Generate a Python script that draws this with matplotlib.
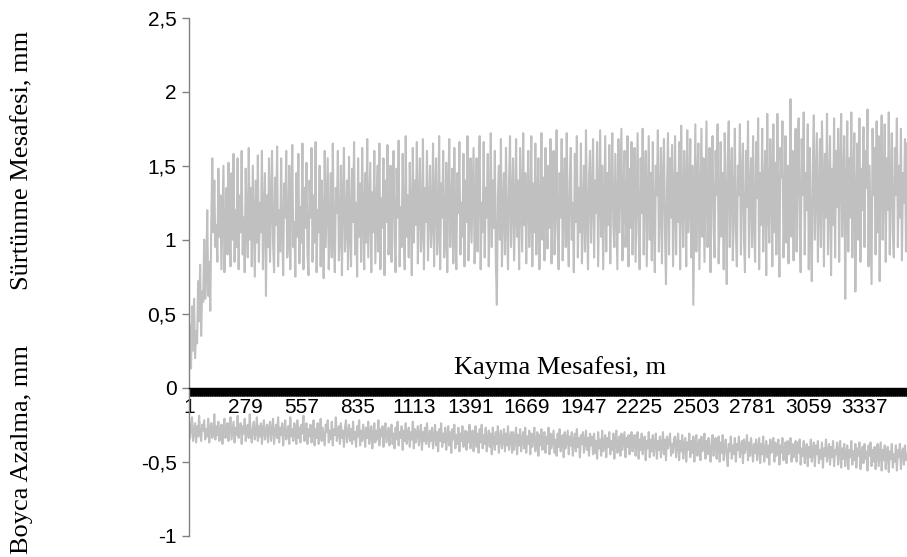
import numpy as np
import matplotlib
matplotlib.use("Agg")
import matplotlib.pyplot as plt

# ---------------- data ----------------
cat_step = 5           # one value shown every 5 categories
n_categories = 3546    # categories visible on the x axis

friction_mm = [
    0.15, 0.42, 0.13, 0.55, 0.25, 0.60, 0.20, 0.38, 0.30, 0.72, 0.45, 0.83, 0.35, 0.65, 0.58, 1.00, 0.60, 0.75, 1.20, 0.62,
    0.85, 0.52, 1.10, 1.55, 1.05, 1.40, 0.95, 1.10, 0.85, 1.48, 1.02, 1.30, 0.80, 1.15, 1.50, 0.78, 1.05, 1.35, 0.90, 1.52,
    1.10, 0.82, 1.45, 1.00, 1.58, 0.85, 1.20, 0.95, 1.55, 0.80, 1.30, 1.05, 1.60, 0.90, 1.15, 0.78, 1.48, 1.10, 0.88, 1.62,
    1.00, 1.35, 0.82, 1.50, 1.12, 0.75, 1.40, 0.98, 1.57, 0.85, 1.25, 1.05, 1.60, 0.80, 1.18, 1.45, 0.62, 1.30, 0.95, 1.55,
    0.85, 1.25, 1.60, 0.98, 0.78, 1.42, 1.10, 1.63, 0.82, 1.20, 0.92, 1.55, 1.05, 0.76, 1.38, 1.15, 1.60, 0.88, 1.00, 1.50,
    0.80, 1.28, 1.64, 0.95, 1.12, 0.75, 1.45, 1.02, 1.58, 0.84, 1.22, 0.98, 1.65, 0.80, 1.35, 1.08, 1.52, 0.90, 0.76, 1.40,
    1.15, 1.62, 0.85, 1.30, 0.98, 1.66, 0.78, 1.20, 1.05, 1.50, 0.82, 1.40, 1.12, 0.74, 1.60, 0.95, 1.25, 1.55, 0.80, 1.08,
    1.45, 0.88, 1.65, 1.00, 0.78, 1.35, 1.18, 1.60, 0.86, 1.02, 1.50, 0.76, 1.28, 1.62, 0.92, 1.10, 1.40, 0.80, 1.56, 1.05,
    0.82, 1.48, 1.12, 1.66, 0.90, 1.25, 0.75, 1.55, 1.02, 1.38, 0.85, 1.62, 1.15, 0.80, 1.45, 0.98, 1.68, 0.88, 1.20, 1.52,
    0.78, 1.32, 1.05, 1.60, 0.84, 1.18, 1.50, 0.92, 1.65, 0.80, 1.28, 1.08, 1.55, 0.76, 1.40, 1.12, 1.64, 0.90, 1.02, 1.50,
    0.85, 1.35, 1.60, 1.00, 0.78, 1.48, 1.15, 1.67, 0.82, 1.22, 0.95, 1.58, 1.08, 0.80, 1.70, 1.02, 1.30, 0.88, 1.52, 1.18,
    0.76, 1.62, 0.98, 1.40, 1.10, 1.66, 0.84, 1.25, 1.55, 0.92, 1.05, 1.68, 0.80, 1.35, 1.12, 1.60, 0.86, 1.20, 1.50, 0.95,
    1.12, 1.65, 0.82, 1.28, 1.55, 0.90, 1.05, 1.70, 0.80, 1.38, 1.15, 1.60, 0.88, 1.00, 1.52, 0.78, 1.32, 1.68, 0.95, 1.20,
    1.48, 0.84, 1.62, 1.08, 0.80, 1.45, 1.18, 1.66, 0.90, 1.25, 1.02, 1.58, 0.82, 1.40, 1.12, 1.70, 0.86, 1.15, 1.55, 0.98,
    1.30, 1.62, 0.84, 1.10, 1.55, 0.92, 1.42, 1.70, 0.80, 1.25, 1.05, 1.66, 0.88, 1.35, 1.15, 1.58, 0.82, 1.20, 1.72, 0.95,
    1.40, 1.08, 1.60, 0.85, 0.56, 1.30, 1.50, 1.00, 1.68, 0.82, 1.22, 1.45, 0.90, 1.62, 1.12, 0.80, 1.38, 1.70, 0.95, 1.25,
    1.55, 0.86, 1.18, 1.68, 1.02, 1.40, 0.80, 1.62, 1.25, 0.92, 1.72, 1.10, 1.45, 0.84, 1.30, 1.60, 0.95, 1.20, 1.70, 0.82,
    1.38, 1.05, 1.65, 0.90, 1.28, 1.55, 0.80, 1.15, 1.72, 1.00, 1.42, 0.86, 1.62, 1.20, 0.94, 1.50, 1.08, 1.68, 0.84, 1.30,
    1.60, 0.90, 1.22, 1.74, 1.05, 0.80, 1.45, 1.15, 1.68, 0.86, 1.30, 1.55, 0.95, 1.72, 1.10, 0.82, 1.40, 1.62, 1.00, 1.25,
    0.78, 1.58, 1.12, 1.70, 0.88, 1.35, 1.05, 1.65, 0.84, 1.20, 1.50, 0.92, 1.74, 1.15, 0.80, 1.42, 1.60, 0.98, 1.28, 1.68,
    0.88, 1.40, 1.18, 1.66, 0.82, 1.30, 1.74, 1.02, 1.50, 0.80, 1.25, 1.70, 0.92, 1.45, 1.10, 1.64, 0.84, 1.35, 1.72, 1.10,
    0.95, 1.58, 1.20, 0.80, 1.68, 1.05, 1.42, 1.75, 0.86, 1.28, 1.60, 0.95, 1.15, 1.70, 0.82, 1.48, 1.08, 1.66, 0.90, 1.35,
    1.62, 0.85, 1.28, 1.72, 1.05, 0.80, 1.55, 1.18, 1.75, 0.90, 1.38, 1.60, 0.82, 1.25, 1.70, 1.00, 1.45, 0.86, 1.66, 1.12,
    0.78, 1.50, 1.30, 1.74, 0.92, 1.20, 1.62, 0.84, 1.40, 1.68, 1.05, 0.70, 1.35, 1.72, 0.90, 1.55, 1.15, 1.64, 0.82, 1.28,
    1.70, 0.90, 1.45, 1.12, 1.66, 0.80, 1.77, 1.25, 0.95, 1.60, 1.38, 0.82, 1.74, 1.05, 1.30, 1.68, 0.88, 1.50, 0.56, 1.20,
    1.78, 0.92, 1.42, 1.65, 0.80, 1.28, 1.75, 1.02, 1.55, 0.85, 1.35, 1.80, 0.95, 1.20, 1.62, 0.78, 1.48, 1.70, 1.08, 0.88,
    1.60, 1.30, 1.78, 0.84, 1.15, 1.66, 1.02, 1.45, 0.80, 1.72, 1.25, 0.70, 1.55, 1.80, 0.95, 1.38, 1.62, 0.86, 1.20, 1.75,
    1.05, 0.82, 1.50, 1.30, 1.78, 0.90, 1.42, 1.65, 1.00, 0.78, 1.60, 1.22, 1.80, 0.88, 1.35, 1.55, 0.95, 1.70, 1.12, 0.85,
    1.66, 1.28, 1.82, 0.80, 1.45, 1.10, 1.75, 0.92, 1.35, 1.60, 0.76, 1.85, 1.20, 0.98, 1.68, 1.40, 0.82, 1.78, 1.05, 1.52,
    0.90, 1.85, 1.25, 0.75, 1.62, 1.42, 1.80, 0.88, 1.15, 1.70, 0.98, 1.50, 0.84, 1.30, 1.95, 1.02, 1.60, 0.86, 1.38, 1.75,
    0.92, 1.55, 1.82, 1.10, 0.78, 1.68, 1.30, 1.86, 0.90, 1.45, 1.20, 1.78, 0.80, 1.62, 1.05, 0.72, 1.50, 1.84, 1.00, 1.35,
    1.72, 0.85, 1.25, 1.68, 0.95, 1.80, 1.40, 0.82, 1.58, 1.15, 1.85, 0.90, 1.30, 1.70, 0.76, 1.48, 1.10, 1.82, 0.88, 1.60,
    1.22, 1.75, 0.85, 1.50, 1.85, 1.02, 1.40, 1.70, 0.60, 1.30, 1.80, 0.92, 1.55, 1.15, 1.86, 0.88, 1.42, 1.72, 0.65, 1.25,
    1.65, 1.00, 1.82, 0.85, 1.48, 1.20, 1.76, 0.95, 1.60, 1.35, 1.88, 0.82, 1.50, 1.10, 0.70, 1.75, 1.30, 1.62, 0.90, 1.80,
    1.05, 1.70, 0.72, 1.45, 1.84, 1.00, 1.35, 1.78, 0.85, 1.55, 1.20, 1.86, 0.90, 1.40, 1.72, 1.05, 0.88, 1.62, 1.30, 1.82,
    0.95, 1.50, 1.15, 1.75, 0.86, 1.45, 1.25, 1.68, 0.92, 1.65,
]

height_loss_mm = [
    -0.22, -0.34, -0.27, -0.20, -0.36, -0.30, -0.24, -0.37, -0.26, -0.33, -0.19, -0.31, -0.36, -0.25, -0.29, -0.22, -0.35, -0.28, -0.33, -0.21,
    -0.37, -0.27, -0.24, -0.34, -0.30, -0.18, -0.35, -0.26, -0.32, -0.23, -0.36, -0.29, -0.25, -0.38, -0.27, -0.21, -0.34, -0.30, -0.24, -0.36,
    -0.26, -0.20, -0.35, -0.29, -0.23, -0.37, -0.27, -0.32, -0.19, -0.34, -0.28, -0.24, -0.38, -0.26, -0.31, -0.21, -0.36, -0.29, -0.25, -0.34,
    -0.18, -0.32, -0.37, -0.27, -0.23, -0.35, -0.30, -0.20, -0.36, -0.26, -0.33, -0.24, -0.38, -0.28, -0.22, -0.35, -0.30, -0.25, -0.37, -0.27,
    -0.23, -0.36, -0.28, -0.21, -0.38, -0.30, -0.25, -0.34, -0.20, -0.37, -0.27, -0.32, -0.24, -0.39, -0.29, -0.22, -0.35, -0.31, -0.26, -0.38,
    -0.20, -0.33, -0.28, -0.36, -0.24, -0.30, -0.38, -0.22, -0.34, -0.27, -0.37, -0.25, -0.31, -0.19, -0.36, -0.29, -0.24, -0.38, -0.28, -0.33,
    -0.25, -0.37, -0.30, -0.22, -0.39, -0.28, -0.34, -0.24, -0.38, -0.31, -0.21, -0.36, -0.27, -0.33, -0.39, -0.25, -0.30, -0.22, -0.37, -0.29,
    -0.35, -0.23, -0.39, -0.28, -0.32, -0.20, -0.36, -0.30, -0.26, -0.38, -0.24, -0.34, -0.29, -0.40, -0.27, -0.22, -0.37, -0.31, -0.25, -0.36,
    -0.28, -0.38, -0.23, -0.35, -0.30, -0.40, -0.26, -0.33, -0.22, -0.39, -0.29, -0.36, -0.25, -0.31, -0.40, -0.27, -0.34, -0.23, -0.38, -0.30,
    -0.26, -0.41, -0.32, -0.24, -0.37, -0.29, -0.35, -0.22, -0.39, -0.28, -0.33, -0.26, -0.40, -0.30, -0.24, -0.37, -0.32, -0.27, -0.39, -0.29,
    -0.25, -0.38, -0.31, -0.41, -0.27, -0.35, -0.23, -0.39, -0.30, -0.34, -0.26, -0.42, -0.29, -0.36, -0.24, -0.38, -0.32, -0.27, -0.40, -0.30,
    -0.35, -0.23, -0.41, -0.28, -0.37, -0.31, -0.26, -0.39, -0.33, -0.25, -0.42, -0.30, -0.36, -0.27, -0.38, -0.24, -0.34, -0.40, -0.29, -0.36,
    -0.27, -0.41, -0.32, -0.25, -0.39, -0.30, -0.43, -0.28, -0.36, -0.24, -0.40, -0.31, -0.37, -0.27, -0.42, -0.33, -0.26, -0.39, -0.30, -0.44,
    -0.28, -0.35, -0.25, -0.41, -0.32, -0.38, -0.27, -0.43, -0.31, -0.36, -0.26, -0.40, -0.33, -0.29, -0.42, -0.30, -0.37, -0.25, -0.41, -0.34,
    -0.29, -0.43, -0.33, -0.26, -0.40, -0.31, -0.44, -0.28, -0.37, -0.25, -0.41, -0.32, -0.38, -0.27, -0.43, -0.34, -0.29, -0.40, -0.31, -0.45,
    -0.27, -0.36, -0.42, -0.30, -0.38, -0.26, -0.44, -0.33, -0.29, -0.41, -0.35, -0.28, -0.43, -0.31, -0.39, -0.26, -0.42, -0.34, -0.30, -0.44,
    -0.30, -0.42, -0.34, -0.27, -0.45, -0.32, -0.39, -0.28, -0.43, -0.35, -0.30, -0.41, -0.27, -0.44, -0.33, -0.38, -0.29, -0.45, -0.31, -0.40,
    -0.34, -0.27, -0.43, -0.36, -0.30, -0.46, -0.32, -0.39, -0.28, -0.42, -0.35, -0.30, -0.44, -0.33, -0.38, -0.27, -0.45, -0.31, -0.41, -0.35,
    -0.29, -0.44, -0.35, -0.46, -0.31, -0.40, -0.28, -0.43, -0.36, -0.32, -0.47, -0.30, -0.41, -0.35, -0.29, -0.45, -0.33, -0.39, -0.30, -0.46,
    -0.36, -0.31, -0.43, -0.28, -0.40, -0.34, -0.47, -0.32, -0.38, -0.30, -0.44, -0.36, -0.29, -0.42, -0.34, -0.46, -0.31, -0.39, -0.33, -0.45,
    -0.31, -0.44, -0.36, -0.48, -0.30, -0.41, -0.35, -0.46, -0.29, -0.43, -0.37, -0.32, -0.47, -0.34, -0.40, -0.30, -0.45, -0.36, -0.42, -0.31,
    -0.48, -0.35, -0.29, -0.44, -0.38, -0.33, -0.46, -0.31, -0.42, -0.36, -0.30, -0.47, -0.34, -0.40, -0.32, -0.45, -0.37, -0.30, -0.43, -0.35,
    -0.32, -0.46, -0.37, -0.30, -0.48, -0.35, -0.42, -0.31, -0.45, -0.38, -0.33, -0.49, -0.36, -0.41, -0.30, -0.47, -0.35, -0.43, -0.32, -0.46,
    -0.38, -0.31, -0.48, -0.36, -0.42, -0.33, -0.47, -0.39, -0.30, -0.45, -0.35, -0.49, -0.33, -0.41, -0.37, -0.31, -0.46, -0.38, -0.44, -0.34,
    -0.33, -0.47, -0.38, -0.31, -0.49, -0.36, -0.43, -0.32, -0.48, -0.39, -0.34, -0.50, -0.37, -0.42, -0.31, -0.47, -0.36, -0.44, -0.33, -0.50,
    -0.38, -0.32, -0.46, -0.40, -0.35, -0.49, -0.33, -0.43, -0.38, -0.31, -0.48, -0.36, -0.45, -0.34, -0.41, -0.50, -0.37, -0.32, -0.46, -0.39,
    -0.34, -0.48, -0.40, -0.33, -0.50, -0.37, -0.44, -0.32, -0.49, -0.41, -0.35, -0.46, -0.53, -0.38, -0.43, -0.33, -0.48, -0.39, -0.45, -0.34,
    -0.50, -0.38, -0.42, -0.33, -0.47, -0.40, -0.36, -0.51, -0.35, -0.44, -0.39, -0.32, -0.49, -0.37, -0.46, -0.34, -0.42, -0.50, -0.38, -0.44,
    -0.35, -0.49, -0.41, -0.34, -0.51, -0.38, -0.45, -0.33, -0.50, -0.42, -0.36, -0.47, -0.39, -0.52, -0.35, -0.44, -0.40, -0.34, -0.50, -0.37,
    -0.46, -0.41, -0.35, -0.52, -0.39, -0.44, -0.34, -0.49, -0.42, -0.37, -0.51, -0.36, -0.45, -0.40, -0.34, -0.50, -0.38, -0.47, -0.41, -0.36,
    -0.50, -0.37, -0.44, -0.35, -0.52, -0.41, -0.46, -0.36, -0.51, -0.43, -0.38, -0.53, -0.40, -0.47, -0.35, -0.50, -0.42, -0.37, -0.53, -0.39,
    -0.45, -0.36, -0.51, -0.42, -0.48, -0.37, -0.54, -0.41, -0.46, -0.35, -0.50, -0.43, -0.38, -0.52, -0.40, -0.47, -0.36, -0.53, -0.42, -0.45,
    -0.37, -0.52, -0.43, -0.36, -0.54, -0.41, -0.48, -0.38, -0.53, -0.44, -0.39, -0.55, -0.42, -0.47, -0.36, -0.52, -0.43, -0.49, -0.38, -0.54,
    -0.41, -0.46, -0.37, -0.55, -0.44, -0.40, -0.51, -0.38, -0.48, -0.43, -0.56, -0.39, -0.46, -0.37, -0.53, -0.42, -0.50, -0.40, -0.55, -0.44,
    -0.38, -0.53, -0.45, -0.37, -0.56, -0.42, -0.49, -0.39, -0.55, -0.44, -0.40, -0.57, -0.43, -0.48, -0.38, -0.54, -0.45, -0.50, -0.39, -0.56,
    -0.42, -0.47, -0.38, -0.55, -0.44, -0.41, -0.52, -0.39, -0.49, -0.45,
]

x_tick_labels = [1, 279, 557, 835, 1113, 1391, 1669, 1947, 2225, 2503, 2781, 3059, 3337]
y_ticks = [-1, -0.5, 0, 0.5, 1, 1.5, 2, 2.5]

title_upper = "Sürtünme Mesafesi, mm"
title_lower = "Boyca Azalma, mm"
title_x = "Kayma Mesafesi, m"

# ---------------- drawing ----------------
serif = "Liberation Serif"
sans = "Liberation Sans"
line_color = "#C0C0C0"

cats_upper = np.arange(1, 1 + cat_step * len(friction_mm), cat_step)
cats_lower = np.arange(1, 1 + cat_step * len(height_loss_mm), cat_step)

fig = plt.figure(figsize=(9.07, 5.57), dpi=100)
ax = fig.add_axes([189 / 907, 21.3 / 557, 718 / 907, 518 / 557])

ax.plot(cats_upper, friction_mm, color=line_color, lw=1.5, zorder=2)
ax.plot(cats_lower, height_loss_mm, color=line_color, lw=1.5, zorder=2)

ax.set_xlim(1, n_categories)
ax.set_ylim(-1, 2.5)

for s in ("top", "right"):
    ax.spines[s].set_visible(False)
ax.spines["left"].set_color("#808080")
ax.spines["left"].set_linewidth(1.0)
ax.spines["bottom"].set_position(("data", 0))
ax.spines["bottom"].set_color("black")
ax.spines["bottom"].set_linewidth(1.0)
ax.spines["bottom"].set_zorder(3)

def comma(v):
    return ("%g" % v).replace(".", ",")

ax.set_yticks(y_ticks)
ax.set_yticklabels([comma(v) for v in y_ticks], fontfamily=sans, fontsize=15)
ax.tick_params(axis="y", direction="out", length=5, width=1.0, color="#808080", pad=4)

ax.set_xticks(x_tick_labels)
ax.set_xticklabels([str(v) for v in x_tick_labels], fontfamily=sans, fontsize=15)
ax.tick_params(axis="x", which="major", direction="out", length=5.5, width=0.6, color="black", pad=2)
ax.set_xticks(np.arange(1, n_categories + 1, 2), minor=True)
ax.tick_params(axis="x", which="minor", direction="out", length=5.5, width=0.6, color="black")

fig.text(22 / 907, 1 - 160 / 557, title_upper, rotation=90, ha="center", va="center",
         fontfamily=serif, fontsize=19)
fig.text(22 / 907, 1 - 450 / 557, title_lower, rotation=90, ha="center", va="center",
         fontfamily=serif, fontsize=19)
fig.text(560 / 907, 1 - 368 / 557, title_x, ha="center", va="center",
         fontfamily=serif, fontsize=19)

fig.savefig("out.png", dpi=100, facecolor="white")
